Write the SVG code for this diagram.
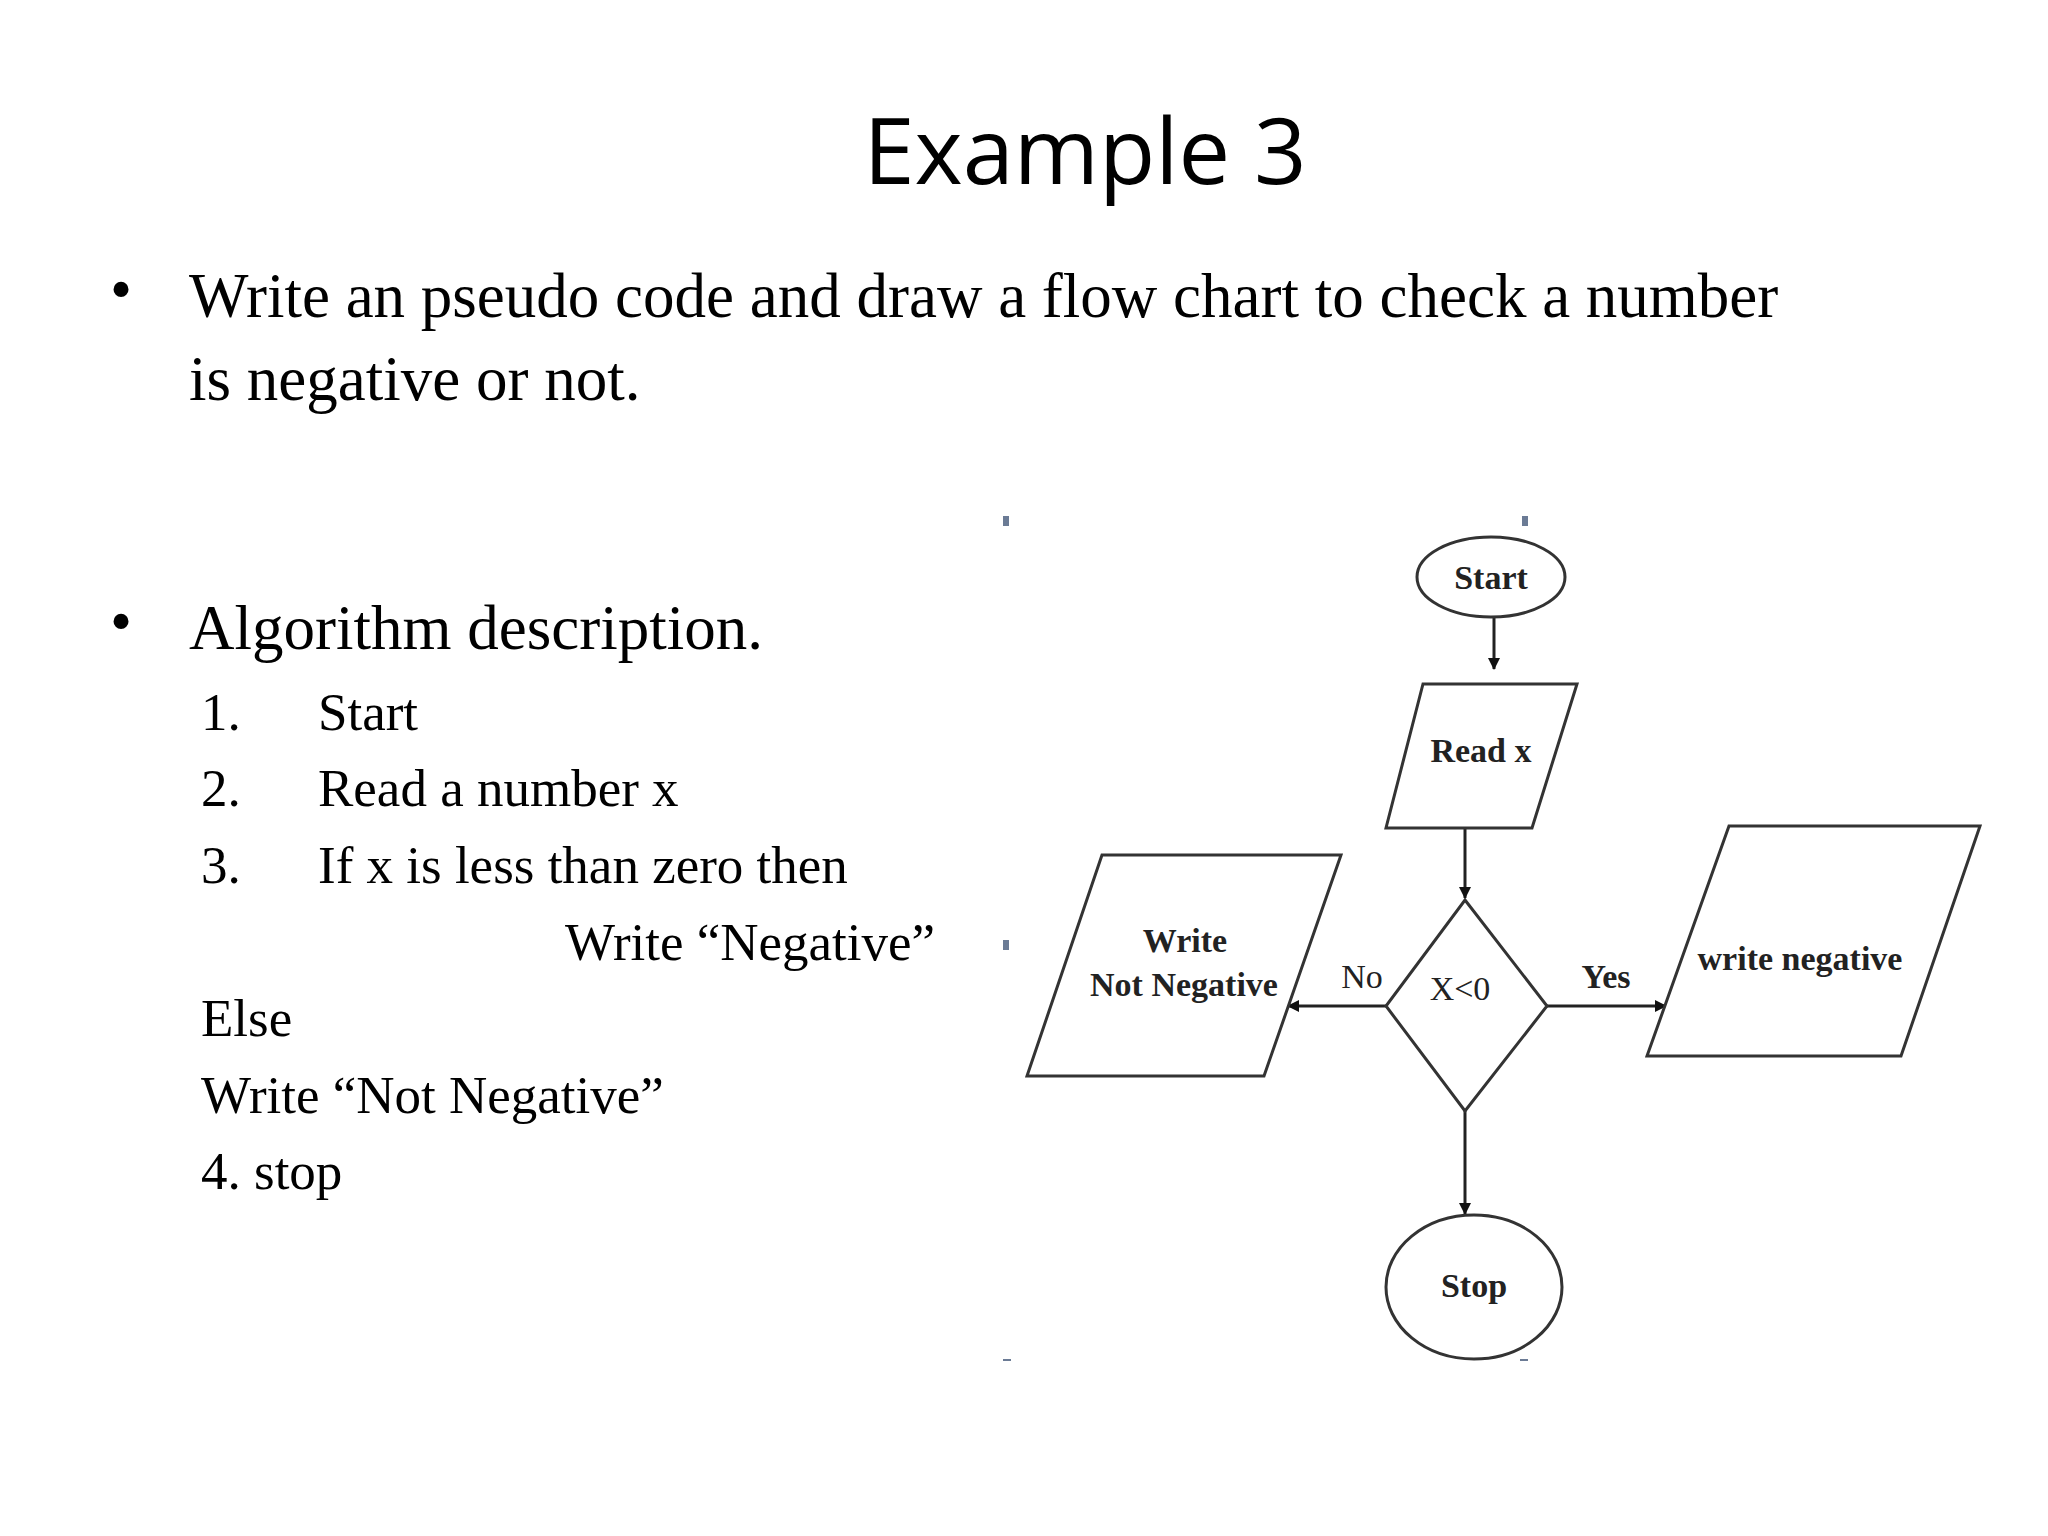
<svg xmlns="http://www.w3.org/2000/svg" width="2048" height="1536" viewBox="0 0 2048 1536">
<style>
.t{font-family:"Liberation Serif",serif;fill:#000}
.b{font-size:63px}
.l{font-size:53px}
.s{stroke:#333;stroke-width:3;fill:#fff}
.c{stroke:#222;stroke-width:3;fill:none}
.f{font-family:"Liberation Serif",serif;font-size:34px;fill:#222;text-anchor:middle;font-weight:bold}
.h{fill:#6b7b95}
</style>
<defs><marker id="a" markerWidth="12" markerHeight="12" refX="11" refY="6" orient="auto" markerUnits="userSpaceOnUse"><path d="M0,0L12,6L0,12z" fill="#111"/></marker></defs>
<rect width="2048" height="1536" fill="#fff"/>
<text x="1085" y="184" font-family="Open Sans,sans-serif" font-size="92" text-anchor="middle">Example 3</text>
<text class="t b" x="110" y="310">•</text>
<text class="t b" x="189" y="317">Write an pseudo code and draw a flow chart to check a number</text>
<text class="t b" x="189" y="400">is negative or not.</text>
<text class="t b" x="110" y="642">•</text>
<text class="t b" x="189" y="649">Algorithm description.</text>
<text class="t l" x="201" y="730">1.</text><text class="t l" x="318" y="730">Start</text>
<text class="t l" x="201" y="806">2.</text><text class="t l" x="318" y="806">Read a number x</text>
<text class="t l" x="201" y="883">3.</text><text class="t l" x="318" y="883">If x is less than zero then</text>
<text class="t l" x="565" y="960">Write “Negative”</text>
<text class="t l" x="201" y="1036">Else</text>
<text class="t l" x="201" y="1113">Write “Not Negative”</text>
<text class="t l" x="201" y="1189">4. stop</text>
<g id="handles">
<rect class="h" x="1003" y="516" width="6" height="10"/><rect class="h" x="1522" y="516" width="6" height="10"/><rect class="h" x="1003" y="940" width="6" height="10"/><rect class="h" x="1003" y="1359" width="8" height="2"/><rect class="h" x="1520" y="1359" width="8" height="2"/>
</g>
<g id="connectors">
<path class="c" d="M1494,617V669" marker-end="url(#a)"/>
<path class="c" d="M1465,828V898" marker-end="url(#a)"/>
<path class="c" d="M1386,1006H1288" marker-end="url(#a)"/>
<path class="c" d="M1547,1006H1666" marker-end="url(#a)"/>
<path class="c" d="M1465,1111V1214" marker-end="url(#a)"/>
<text class="f" x="1362" y="988" style="font-weight:normal">No</text>
<text class="f" x="1606" y="988">Yes</text>
</g>
<g id="start"><ellipse class="s" cx="1491" cy="577" rx="74" ry="40"/><text class="f" x="1491" y="589">Start</text></g>
<g id="read"><polygon class="s" points="1423,684 1577,684 1532,828 1386,828"/><text class="f" x="1481" y="762">Read x</text></g>
<g id="decision"><polygon class="s" points="1465,900 1547,1006 1465,1111 1386,1006"/><text class="f" x="1460" y="1000" style="font-weight:normal">X&lt;0</text></g>
<g id="notneg"><polygon class="s" points="1102,855 1341,855 1264,1076 1027,1076"/><text class="f" x="1185" y="952">Write</text><text class="f" x="1184" y="996">Not Negative</text></g>
<g id="neg"><polygon class="s" points="1729,826 1980,826 1901,1056 1647,1056"/><text class="f" x="1800" y="970">write negative</text></g>
<g id="stop"><ellipse class="s" cx="1474" cy="1287" rx="88" ry="72"/><text class="f" x="1474" y="1297">Stop</text></g>
</svg>
